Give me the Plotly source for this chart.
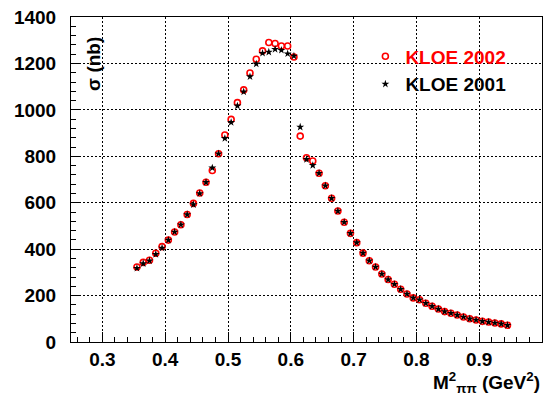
import plotly.graph_objects as go

x_vals = [round(0.355 + 0.01 * i, 3) for i in range(60)]

kloe2002 = [323, 343, 352, 382, 411, 439, 474, 505, 549, 597,
            642, 688, 739, 811, 892, 959, 1031, 1086, 1159, 1218,
            1254, 1290, 1286, 1275, 1275, 1228, 887, 794, 780, 727,
            673, 619, 564, 516, 468, 428, 383, 350, 323, 293,
            269, 249, 227, 207, 190, 182, 167, 154, 142, 131,
            124, 116, 108, 100, 95, 89, 86, 82, 78, 72]

kloe2001 = [318, 338, 350, 378, 405, 439, 474, 505, 549, 592,
            640, 688, 750, 811, 877, 946, 1017, 1078, 1143, 1198,
            1244, 1249, 1261, 1257, 1242, 1232, 926, 787, 761, 727,
            673, 619, 564, 516, 468, 428, 383, 350, 323, 293,
            269, 249, 227, 207, 190, 182, 167, 154, 142, 131,
            124, 116, 108, 100, 95, 89, 86, 82, 78, 72]

x_ticks = [0.3, 0.4, 0.5, 0.6, 0.7, 0.8, 0.9, 1.0]
x_tick_labels = ["0.3", "0.4", "0.5", "0.6", "0.7", "0.8", "0.9", "1"]
y_ticks = [0, 200, 400, 600, 800, 1000, 1200, 1400]

FONT = "Liberation Sans, Arial, sans-serif"

fig = go.Figure()
fig.add_trace(go.Scatter(
    x=x_vals, y=kloe2002, mode="markers",
    name="<b><span style='color:#ff0000'>KLOE 2002</span></b>",
    marker=dict(symbol="circle-open", size=6, color="#ff0000",
                line=dict(width=1.6, color="#ff0000")),
))
fig.add_trace(go.Scatter(
    x=x_vals, y=kloe2001, mode="markers",
    name="<b>KLOE 2001</b>",
    marker=dict(symbol="star", size=6, color="black", line=dict(width=0)),
))

axis_common = dict(
    showline=True, linecolor="black", linewidth=1, mirror=True,
    ticks="inside", ticklen=10, tickcolor="black", tickwidth=1,
    showgrid=True, gridcolor="black", gridwidth=1, griddash="2px,2px",
    zeroline=False,
    tickfont=dict(family=FONT, size=19, color="black", weight="bold"),
)

fig.update_xaxes(
    range=[0.25, 1.0], tickvals=x_ticks, ticktext=x_tick_labels,
    minor=dict(dtick=0.02, tick0=0.0, ticks="inside", ticklen=5,
               tickcolor="black", showgrid=False),
    ticklabelstandoff=0,
    **axis_common,
)
fig.update_yaxes(
    range=[0, 1400], tickvals=y_ticks,
    minor=dict(dtick=40, tick0=0, ticks="inside", ticklen=5,
               tickcolor="black", showgrid=False),
    ticklabelstandoff=10,
    **axis_common,
)

fig.add_annotation(
    text="<b>σ (nb)</b>", xref="paper", yref="paper",
    x=0.049, y=0.856, textangle=-90, showarrow=False,
    xanchor="center", yanchor="middle",
    font=dict(family=FONT, size=19, color="black"),
)
fig.add_annotation(
    text="<b>M<sup>2</sup><sub>ππ</sub> (GeV<sup>2</sup>)</b>",
    xref="paper", yref="paper", x=1.0, y=-0.125,
    xanchor="right", yanchor="middle", showarrow=False,
    font=dict(family=FONT, size=19, color="black"),
)

fig.update_layout(
    width=543, height=399,
    margin=dict(l=71, r=1, t=17, b=57),
    paper_bgcolor="white", plot_bgcolor="white",
    showlegend=True,
    legend=dict(
        x=0.625, y=0.937, xanchor="left", yanchor="top",
        bgcolor="rgba(0,0,0,0)", borderwidth=0,
        font=dict(family=FONT, size=19, color="black"),
        tracegroupgap=4,
    ),
)

fig.write_html("out.html")
